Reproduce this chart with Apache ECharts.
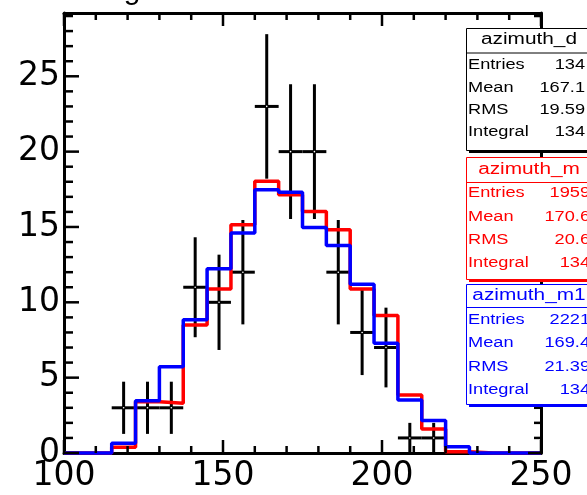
<!DOCTYPE html>
<html><head><meta charset="utf-8">
<script src="https://cdn.jsdelivr.net/npm/echarts@6/dist/echarts.min.js"></script>
<style>html,body{margin:0;padding:0;background:#fff}#c{width:587px;height:495px}</style>
</head><body><div id="c"></div>
<script>
// ---- data ----
const binEdges = [100,107.5,115,122.5,130,137.5,145,152.5,160,167.5,175,182.5,190,197.5,205,212.5,220,227.5,235,242.5,250];
const dataCounts = [0,0,3,3,3,11,10,12,23,20,20,12,8,7,1,1,0,0,0,0];
const modelM  = [0,0,0.38,3.4,3.3,8.5,10.88,15.15,18.03,17.14,16.03,14.82,10.88,9.12,3.85,1.6,0.09,0,0,0];
const modelM1 = [0,0,0.64,3.47,5.73,8.84,12.23,14.6,17.47,17.3,14.97,13.77,11.2,7.29,3.52,2.15,0.42,0,0,0];
const xMajorTicks = [100,150,200,250];
const xMinorTicks = [110,120,130,140,160,170,180,190,210,220,230,240];
const yMajorTicks = [0,5,10,15,20,25];
const yMinorTicks = [1,2,3,4,6,7,8,9,11,12,13,14,16,17,18,19,21,22,23,24,26,27,28,29];
const xMin = 100, xMax = 250, yMin = 0, yMax = 29.2;
const statNames = ['azimuth_d','azimuth_m','azimuth_m1'];
const statLabels = ['Entries','Mean','RMS','Integral'];
const statD  = ['134','167.1','19.59','134'];
const statM  = ['1959','170.6','20.6','134'];
const statM1 = ['2221','169.4','21.39','134'];
const titleText = 'g';

// ---- build ----
function stepData(vals){
  const out = [];
  for (let i = 0; i < vals.length; i++) out.push([binEdges[i], vals[i]]);
  out.push([binEdges[vals.length], vals[vals.length-1]]);
  return out;
}
const errPoints = [];
dataCounts.forEach((c,i)=>{
  if (c > 0) {
    const lo = binEdges[i], hi = binEdges[i+1];
    errPoints.push([(lo+hi)/2, c, Math.sqrt(c), (hi-lo)/2]);
  }
});

const chart = echarts.init(document.getElementById('c'), null, {renderer:'canvas'});
const black = '#000';
function xAx(pos, showLabel){
  return {type:'value', min:xMin, max:xMax, interval:50, position:pos,
    axisLine:{show:true, onZero:false, lineStyle:{color:black,width:3}},
    axisTick:{show:false},
    axisLabel:{show:showLabel, color:black, fontFamily:'DejaVu Sans', fontSize:33, margin:7},
    splitLine:{show:false}};
}
function yAx(pos, showLabel){
  return {type:'value', min:yMin, max:yMax, interval:5, position:pos,
    axisLine:{show:true, onZero:false, lineStyle:{color:black,width:3}},
    axisTick:{show:false},
    axisLabel:{show:showLabel, color:black, fontFamily:'DejaVu Sans', fontSize:33, margin:4, showMaxLabel:false},
    splitLine:{show:false}};
}

// stat boxes
const boxes = [
  {name:statNames[0], vals:statD,  color:'#000000', top:28,  sep:52.5, bottom:150, head:40,  rows:[65,88,110,132], valRight:585},
  {name:statNames[1], vals:statM,  color:'#ff0000', top:157, sep:182,  bottom:279, head:169.5, rows:[193,217,240,263], valRight:590},
  {name:statNames[2], vals:statM1, color:'#0000ff', top:284, sep:307,  bottom:404, head:295.5, rows:[320,343,367,390], valRight:590}
];
const boxLeft = 466, boxRight = 592;
const graphics = [];
let gid = 0;
function G(o){ o.id = 'g' + (gid++); graphics.push(o); }
boxes.forEach(b=>{
  G({type:'rect', z:100, shape:{x:boxLeft+3, y:b.bottom, width:boxRight-boxLeft, height:3}, style:{fill:b.color}});
  G({type:'rect', z:101, shape:{x:boxLeft+0.5, y:b.top+0.5, width:boxRight-boxLeft, height:b.bottom-b.top}, style:{fill:'#fff', stroke:b.color, lineWidth:1}});
  G({type:'line', z:102, shape:{x1:boxLeft, y1:b.sep+0.5, x2:boxRight, y2:b.sep+0.5}, style:{stroke:b.color, lineWidth:1}});
  G({type:'text', z:103, x:(boxLeft+boxRight)/2, y:b.head, scaleX:1.3,
    style:{text:b.name, x:0, y:0, align:'center', verticalAlign:'middle', fill:b.color, font:'16px "Liberation Sans"'}});
  statLabels.forEach((lab,k)=>{
    G({type:'text', z:103, x:468, y:b.rows[k], scaleX:1.3,
      style:{text:lab, x:0, y:0, align:'left', verticalAlign:'middle', fill:b.color, font:'14px "Liberation Sans"'}});
    G({type:'text', z:103, x:b.valRight, y:b.rows[k], scaleX:1.3,
      style:{text:b.vals[k], x:0, y:0, align:'right', verticalAlign:'middle', fill:b.color, font:'14px "Liberation Sans"'}});
  });
});
G({type:'text', z:103, x:132, y:-9, style:{text:titleText, x:0, y:0, align:'center', verticalAlign:'middle', fill:'#000', font:'30px "Liberation Sans"'}});

chart.setOption({
  animation:false,
  backgroundColor:'#fff',
  grid:{left:64, right:46, top:13, bottom:42, containLabel:false, outerBoundsMode:'none'},
  xAxis:[xAx('bottom',true), xAx('top',false)],
  yAxis:[yAx('left',true), yAx('right',false)],
  series:[
    {type:'custom', xAxisIndex:0, yAxisIndex:0, data:errPoints, encode:{x:0,y:1},
      renderItem:function(params, api){
        const x = api.value(0), y = api.value(1), e = api.value(2), hw = api.value(3);
        const pT = api.coord([x, y+e]), pB = api.coord([x, Math.max(0, y-e)]);
        const pL = api.coord([x-hw, y]), pR = api.coord([x+hw, y]);
        const pC = api.coord([x, y]);
        return {type:'group', children:[
          {type:'line', shape:{x1:pT[0],y1:pT[1],x2:pB[0],y2:pB[1]}, style:{stroke:'#000',lineWidth:3}},
          {type:'line', shape:{x1:pL[0],y1:pL[1],x2:pR[0],y2:pR[1]}, style:{stroke:'#000',lineWidth:3}},
          {type:'circle', shape:{cx:pC[0],cy:pC[1],r:0.8}, style:{fill:'#fff'}}
        ]};
      }},
    {type:'line', step:'end', xAxisIndex:0, yAxisIndex:0, data:stepData(modelM), symbol:'none',
      lineStyle:{color:'#ff0000', width:3.5}, clip:false},
    {type:'line', step:'end', xAxisIndex:0, yAxisIndex:0, data:stepData(modelM1), symbol:'none',
      lineStyle:{color:'#0000ff', width:3.5}, clip:false}
  ],
  graphic:{elements:graphics}
});

// tick marks placed through the chart's own scales
const tickG = [];
const st = {stroke:'#000', lineWidth:2.5};
function px(p){ return chart.convertToPixel({gridIndex:0}, p); }
function T(shape){ tickG.push({id:'t' + tickG.length, type:'line', z:90, silent:true, shape:shape, style:st}); }
function addX(list, lenB, lenT){
  list.forEach(v=>{
    const b = px([v, yMin]), t = px([v, yMax]);
    if (!b || !t) return;
    T({x1:b[0],y1:b[1],x2:b[0],y2:b[1]-lenB});
    T({x1:t[0],y1:t[1],x2:t[0],y2:t[1]+lenT});
  });
}
function addY(list, lenL, lenR){
  list.forEach(v=>{
    const l = px([xMin, v]), r = px([xMax, v]);
    if (!l || !r) return;
    T({x1:l[0],y1:l[1],x2:l[0]+lenL,y2:l[1]});
    T({x1:r[0],y1:r[1],x2:r[0]-lenR,y2:r[1]});
  });
}
addX(xMajorTicks, 13, 13);
addX(xMinorTicks, 7, 7);
addY(yMajorTicks, 15, 13);
addY(yMinorTicks, 9, 7);
chart.setOption({graphic:{elements:tickG}});
</script>
</body></html>
